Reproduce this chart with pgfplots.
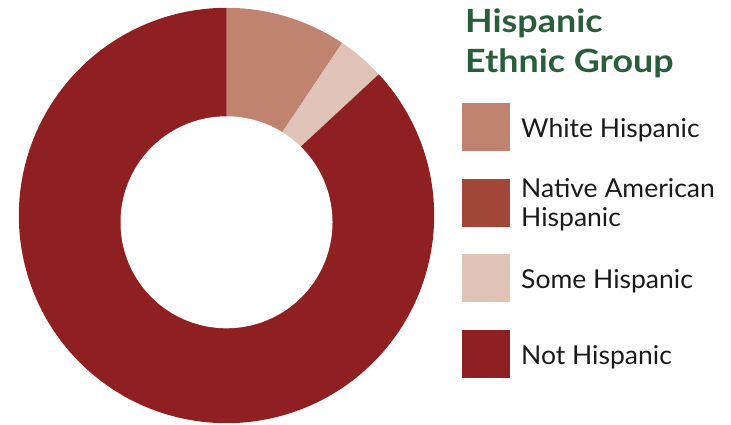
\documentclass[border=0pt]{standalone}
\usepackage{pgfplots}
\pgfplotsset{compat=1.18}
\usepackage{fontspec}
\setmainfont{Lato}
\newfontfamily\titlefont[FakeStretch=1.12]{Lato}
\newfontfamily\legfont[FakeStretch=1.02]{Lato}
\definecolor{cWhite}{HTML}{C08370}
\definecolor{cNative}{HTML}{A0473A}
\definecolor{cSome}{HTML}{DFC3B6}
\definecolor{cNot}{HTML}{8F1F20}
\definecolor{cTitle}{HTML}{2A5E3B}
\definecolor{cText}{HTML}{1A1A1A}
% data (percent)
\def\vWhite{9.4}
\def\vNative{0}
\def\vSome{3.7}
\def\vNot{86.9}
\begin{document}
\begin{tikzpicture}
\path[use as bounding box] (0,0) rectangle (731pt,-425pt);
\pgfmathsetmacro{\aA}{90}
\pgfmathsetmacro{\aB}{\aA-3.6*\vWhite}
\pgfmathsetmacro{\aC}{\aB-3.6*\vNative}
\pgfmathsetmacro{\aD}{\aC-3.6*\vSome}
\pgfmathsetmacro{\aE}{\aD-3.6*\vNot}
\begin{axis}[hide axis, scale only axis, width=415.4pt, height=415.4pt,
  xmin=-1, xmax=1, ymin=-1, ymax=1, clip=false,
  anchor=center, at={(226.5pt,-215.5pt)}]
\addplot[fill=cWhite, draw=none, domain=\aB:\aA, samples=40, variable=\t]
  ({cos(t)},{sin(t)}) -- (axis cs:0,0) -- cycle;
\addplot[fill=cSome, draw=none, domain=\aD:\aC, samples=20, variable=\t]
  ({cos(t)},{sin(t)}) -- (axis cs:0,0) -- cycle;
\addplot[fill=cNot, draw=none, domain=\aE:\aD, samples=180, variable=\t]
  ({cos(t)},{sin(t)}) -- (axis cs:0,0) -- cycle;
\addplot[fill=white, draw=none, domain=0:360, samples=150, variable=\t]
  ({0.5104*cos(t)},{-0.0327+0.5104*sin(t)}) -- cycle;
\end{axis}
% title
\node[anchor=base west, inner sep=0pt, text=cTitle, font=\titlefont\fontsize{32}{38}\selectfont\bfseries] at (465pt,-33pt) {Hispanic};
\node[anchor=base west, inner sep=0pt, text=cTitle, font=\titlefont\fontsize{32}{38}\selectfont\bfseries] at (465pt,-73pt) {Ethnic Group};
% legend
\fill[cWhite] (462pt,-103pt) rectangle (510pt,-151pt);
\fill[cNative] (462pt,-179pt) rectangle (510pt,-227pt);
\fill[cSome] (462pt,-254pt) rectangle (510pt,-302pt);
\fill[cNot] (462pt,-330pt) rectangle (510pt,-378pt);
\tikzset{lt/.style={anchor=base west, inner sep=0pt, text=cText, font=\legfont\fontsize{26}{31}\selectfont}}
\node[lt] at (521pt,-138pt) {White Hispanic};
\node[lt] at (521pt,-197pt) {Native American};
\node[lt] at (521pt,-226pt) {Hispanic};
\node[lt] at (521pt,-288pt) {Some Hispanic};
\node[lt] at (521pt,-364pt) {Not Hispanic};
\end{tikzpicture}
\end{document}
